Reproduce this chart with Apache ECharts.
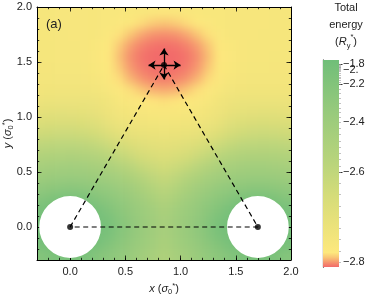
<!DOCTYPE html>
<html><head><meta charset="utf-8">
<script src="https://cdn.jsdelivr.net/npm/echarts@6/dist/echarts.min.js"></script>
<style>html,body{margin:0;padding:0;background:#fff}#c{width:374px;height:298px;background:#fff}</style>
</head><body><div id="c"></div>
<script>
// ---------------- data ----------------
const xCenters = [-0.25,-0.15,-0.05,0.05,0.15,0.25,0.35,0.45,0.55,0.65,0.75,0.85,0.95,1.05,1.15,1.25,1.35,1.45,1.55,1.65,1.75,1.85,1.95];
const yCenters = [1.95,1.85,1.75,1.65,1.55,1.45,1.35,1.25,1.15,1.05,0.95,0.85,0.75,0.65,0.55,0.45,0.35,0.25,0.15,0.05,-0.05,-0.15,-0.25];
const cellSize = 0.1;

const e195 = [-2.756,-2.756,-2.758,-2.758,-2.760,-2.760,-2.763,-2.763,-2.765,-2.767,-2.770,-2.771,-2.770,-2.767,-2.765,-2.763,-2.763,-2.760,-2.760,-2.758,-2.758,-2.756,-2.756];
const e185 = [-2.756,-2.756,-2.758,-2.758,-2.760,-2.760,-2.763,-2.770,-2.777,-2.783,-2.788,-2.790,-2.788,-2.783,-2.777,-2.770,-2.763,-2.760,-2.760,-2.758,-2.758,-2.756,-2.756];
const e175 = [-2.756,-2.756,-2.756,-2.758,-2.758,-2.760,-2.770,-2.781,-2.790,-2.797,-2.801,-2.802,-2.801,-2.797,-2.790,-2.781,-2.770,-2.760,-2.758,-2.758,-2.756,-2.756,-2.756];
const e165 = [-2.754,-2.756,-2.756,-2.756,-2.758,-2.767,-2.777,-2.789,-2.799,-2.805,-2.808,-2.809,-2.808,-2.805,-2.799,-2.789,-2.777,-2.767,-2.758,-2.756,-2.756,-2.756,-2.754];
const e155 = [-2.754,-2.754,-2.756,-2.756,-2.758,-2.769,-2.779,-2.792,-2.802,-2.808,-2.810,-2.810,-2.810,-2.808,-2.802,-2.792,-2.779,-2.769,-2.758,-2.756,-2.756,-2.754,-2.754];
const e145 = [-2.751,-2.751,-2.754,-2.754,-2.756,-2.767,-2.777,-2.789,-2.800,-2.806,-2.809,-2.810,-2.809,-2.806,-2.800,-2.789,-2.777,-2.767,-2.756,-2.754,-2.754,-2.751,-2.751];
const e135 = [-2.749,-2.749,-2.749,-2.749,-2.751,-2.756,-2.772,-2.783,-2.794,-2.801,-2.805,-2.806,-2.805,-2.801,-2.794,-2.783,-2.772,-2.756,-2.751,-2.749,-2.749,-2.749,-2.749];
const e125 = [-2.742,-2.740,-2.740,-2.740,-2.742,-2.746,-2.760,-2.772,-2.782,-2.790,-2.795,-2.796,-2.795,-2.790,-2.782,-2.772,-2.760,-2.746,-2.742,-2.740,-2.740,-2.740,-2.742];
const e115 = [-2.726,-2.724,-2.724,-2.724,-2.724,-2.728,-2.740,-2.758,-2.769,-2.775,-2.780,-2.782,-2.780,-2.775,-2.769,-2.758,-2.740,-2.728,-2.724,-2.724,-2.724,-2.724,-2.726];
const e105 = [-2.703,-2.699,-2.698,-2.701,-2.705,-2.714,-2.728,-2.742,-2.753,-2.760,-2.763,-2.764,-2.763,-2.760,-2.753,-2.742,-2.728,-2.714,-2.705,-2.701,-2.698,-2.699,-2.703];
const e095 = [-2.671,-2.667,-2.665,-2.668,-2.675,-2.687,-2.710,-2.726,-2.735,-2.741,-2.744,-2.746,-2.744,-2.741,-2.735,-2.726,-2.710,-2.687,-2.675,-2.668,-2.665,-2.667,-2.671];
const e085 = [-2.636,-2.632,-2.629,-2.632,-2.639,-2.652,-2.678,-2.698,-2.710,-2.717,-2.721,-2.724,-2.721,-2.717,-2.710,-2.698,-2.678,-2.652,-2.639,-2.632,-2.629,-2.632,-2.636];
const e075 = [-2.595,-2.583,-2.577,-2.583,-2.595,-2.609,-2.632,-2.652,-2.673,-2.687,-2.696,-2.701,-2.696,-2.687,-2.673,-2.652,-2.632,-2.609,-2.595,-2.583,-2.577,-2.583,-2.595];
const e065 = [-2.522,-2.508,-2.500,-2.504,-2.516,-2.533,-2.566,-2.609,-2.632,-2.655,-2.668,-2.678,-2.668,-2.655,-2.632,-2.609,-2.566,-2.533,-2.516,-2.504,-2.500,-2.508,-2.522];
const e055 = [-2.454,-2.441,-2.433,-2.433,-2.441,-2.458,-2.483,-2.524,-2.574,-2.611,-2.632,-2.646,-2.632,-2.611,-2.574,-2.524,-2.483,-2.458,-2.441,-2.433,-2.433,-2.441,-2.454];
const e045 = [-2.389,-2.370,-2.359,-2.359,-2.370,-2.389,-2.417,-2.450,-2.491,-2.541,-2.591,-2.613,-2.591,-2.541,-2.491,-2.450,-2.417,-2.389,-2.370,-2.359,-2.359,-2.370,-2.389];
const e035 = [-2.307,-2.274,-2.257,-2.257,-2.274,-2.307,-2.335,-2.384,-2.425,-2.475,-2.529,-2.574,-2.529,-2.475,-2.425,-2.384,-2.335,-2.307,-2.274,-2.257,-2.257,-2.274,-2.307];
const e025 = [-2.215,-2.094,-2.035,-2.035,-2.094,-2.215,-2.259,-2.313,-2.373,-2.425,-2.475,-2.520,-2.475,-2.425,-2.373,-2.313,-2.259,-2.215,-2.094,-2.035,-2.035,-2.094,-2.215];
const e015 = [-1.979,-1.876,-1.876,-1.876,-1.876,-1.979,-2.171,-2.259,-2.329,-2.385,-2.431,-2.479,-2.431,-2.385,-2.329,-2.259,-2.171,-1.979,-1.876,-1.876,-1.876,-1.876,-1.979];
const e005 = [-1.876,-1.876,-1.876,-1.876,-1.876,-1.876,-2.035,-2.230,-2.302,-2.367,-2.418,-2.466,-2.418,-2.367,-2.302,-2.230,-2.035,-1.876,-1.876,-1.876,-1.876,-1.876,-1.876];
const em005 = [-1.876,-1.876,-1.876,-1.876,-1.876,-1.876,-2.035,-2.230,-2.302,-2.367,-2.418,-2.466,-2.418,-2.367,-2.302,-2.230,-2.035,-1.876,-1.876,-1.876,-1.876,-1.876,-1.876];
const em015 = [-1.979,-1.876,-1.876,-1.876,-1.876,-1.979,-2.171,-2.259,-2.329,-2.385,-2.431,-2.479,-2.431,-2.385,-2.329,-2.259,-2.171,-1.979,-1.876,-1.876,-1.876,-1.876,-1.979];
const em025 = [-2.215,-2.094,-2.035,-2.035,-2.094,-2.215,-2.259,-2.313,-2.373,-2.425,-2.458,-2.504,-2.458,-2.425,-2.373,-2.313,-2.259,-2.215,-2.094,-2.035,-2.035,-2.094,-2.215];
const energyRows = [e195,e185,e175,e165,e155,e145,e135,e125,e115,e105,e095,e085,e075,e065,e055,e045,e035,e025,e015,e005,em005,em015,em025];

const vertexX = [0, 0.85, 1.7];
const vertexY = [0, 1.472, 0];
const exclusionX = [0, 1.7];
const exclusionY = [0, 0];
const exclusionRadius = 0.28;
const arrowDx = [-0.14, 0.15, 0, 0];
const arrowDy = [0, 0, 0.15, -0.13];

const xTickValues = [0, 0.5, 1, 1.5, 2];
const xTickLabels = ['0.0','0.5','1.0','1.5','2.0'];
const yTickValues = [0, 0.5, 1, 1.5, 2];
const yTickLabels = ['0.0','0.5','1.0','1.5','2.0'];
const cbTickValues = [-2.8, -2.6, -2.4, -2.2, -2.0, -1.8];
const cbTickLabels = ['\u22122.8','\u22122.6','\u22122.4','\u22122.2','\u22122.','\u22121.8'];

// colour normalisation (energy -> position on colour bar) and colour map
const normE = [-2.81, -2.8, -2.6, -2.4, -2.2, -2.0, -1.8, -1.75];
const normT = [0, 0.024, 0.459, 0.700, 0.884, 0.952, 0.981, 1];
const cmapPos = [0, 0.02, 0.045, 0.07, 0.12, 0.22, 0.35, 0.49, 0.75, 1];
const cmapCol = ['#f26a6a','#f5906e','#f9c474','#fde87d','#f6e67c','#e8e17a','#d4dc79','#bbd57b','#97ca7c','#70be79'];

// ---------------- helpers ----------------
function norm(e){
  if (e <= normE[0]) return 0;
  for (let k = 0; k < normE.length - 1; k++) {
    if (e <= normE[k+1]) return normT[k] + (e - normE[k]) / (normE[k+1] - normE[k]) * (normT[k+1] - normT[k]);
  }
  return 1;
}
const cmapRgb = cmapCol.map(h => [parseInt(h.slice(1,3),16), parseInt(h.slice(3,5),16), parseInt(h.slice(5,7),16)]);
function colorOf(t){
  t = Math.max(0, Math.min(1, t));
  for (let k = 0; k < cmapPos.length - 1; k++) {
    if (t <= cmapPos[k+1]) {
      const f = (t - cmapPos[k]) / (cmapPos[k+1] - cmapPos[k]);
      const a = cmapRgb[k], b = cmapRgb[k+1];
      return 'rgb(' + [0,1,2].map(i => Math.round(a[i] + (b[i]-a[i])*f)).join(',') + ')';
    }
  }
  return cmapCol[cmapCol.length-1];
}
const minorTicks = [];
for (let k = -3; k <= 20; k++) minorTicks.push(k / 10);
const cbMinor = [];
for (let k = 0; k <= 40; k++) cbMinor.push(norm(-2.8 + k * 0.025));

const heatData = [];
yCenters.forEach((y, j) => xCenters.forEach((x, i) => heatData.push([x, y, energyRows[j][i]])));
const xFirst = xCenters[0], xLast = xCenters[xCenters.length-1];
const yFirst = yCenters[0], yLast = yCenters[yCenters.length-1];

const FONT = 'Liberation Sans, Arial, sans-serif';
const richName = {
  i: {fontStyle: 'italic', fontSize: 11, fontFamily: FONT, color: '#222'},
  b: {fontSize: 7.5, verticalAlign: 'bottom', fontFamily: FONT, color: '#222', padding: [6,0,0,0]},
  t: {fontSize: 7.5, verticalAlign: 'top', fontFamily: FONT, color: '#222', padding: [0,0,5,0]}
};
function labelFor(values, labels){
  return v => { for (let k = 0; k < values.length; k++) if (Math.abs(values[k] - v) < 1e-6) return labels[k]; return ''; };
}
function frameAxis(dim, pos, major, withLabel, extra){
  const vals = dim === 'x' ? xTickValues : yTickValues;
  const labs = dim === 'x' ? xTickLabels : yTickLabels;
  return Object.assign({
    gridIndex: 0, type: 'value', min: -0.3, max: 2.0, position: pos, zlevel: 1,
    axisLine: {show: major, onZero: false, lineStyle: {color: '#000', width: 1}},
    axisTick: {show: true, inside: true, length: major ? 4.5 : 2.2, customValues: major ? vals : minorTicks, lineStyle: {color: '#000', width: 0.8}},
    axisLabel: withLabel ? {show: true, hideOverlap: false, customValues: vals, formatter: labelFor(vals, labs), fontSize: 11, color: '#222', fontFamily: FONT, margin: dim === 'x' ? 6 : 5} : {show: false},
    splitLine: {show: false}
  }, extra || {});
}

const chart = echarts.init(document.getElementById('c'), null, {renderer: 'canvas'});
const cbTickPos = cbTickValues.map(norm);
const cbFmt = labelFor(cbTickPos, cbTickLabels);
const cbPosA = cbTickPos.filter((p, k) => k % 2 === 0);
const cbPosB = cbTickPos.filter((p, k) => k % 2 === 1);
function cbAxis(ticks, labels, len, col, w, showLine){
  return {gridIndex: 1, type: 'value', min: 0, max: 1, position: 'right', zlevel: 1,
    axisLine: {show: showLine, lineStyle: {color: '#000', width: 1.2}},
    axisTick: {show: true, inside: false, length: len, customValues: ticks, lineStyle: {color: col, width: w}},
    axisLabel: labels ? {show: true, hideOverlap: false, customValues: labels, formatter: cbFmt, fontSize: 11, color: '#222', fontFamily: FONT, margin: 4} : {show: false},
    splitLine: {show: false}};
}
chart.setOption({
  animation: false,
  grid: [
    {left: 37, top: 7, width: 254, height: 253, containLabel: false, outerBoundsMode: 'none'},
    {left: 323, top: 60, width: 16, height: 207, containLabel: false, outerBoundsMode: 'none'}
  ],
  xAxis: [
    frameAxis('x', 'bottom', true, true, {name: '{i|x} ({i|\u03c3}{b|0}{t|*})', nameLocation: 'middle', nameGap: 22, nameMoveOverlap: false,
      nameTextStyle: {fontSize: 11, color: '#222', fontFamily: FONT, rich: richName}}),
    frameAxis('x', 'bottom', false, false),
    frameAxis('x', 'top', true, false),
    frameAxis('x', 'top', false, false),
    {gridIndex: 1, type: 'value', min: 0, max: 1, show: false, zlevel: 1}
  ],
  yAxis: [
    frameAxis('y', 'left', true, true, {name: '{i|y} ({i|\u03c3}{b|0}{t|*})', nameLocation: 'middle', nameGap: 22, nameRotate: 90, nameMoveOverlap: false,
      nameTextStyle: {fontSize: 11, color: '#222', fontFamily: FONT, rich: richName}}),
    frameAxis('y', 'left', false, false),
    frameAxis('y', 'right', true, false),
    frameAxis('y', 'right', false, false),
    cbAxis(cbPosA, cbPosA, 3.5, '#000', 0.8, true),
    cbAxis(cbPosB, cbPosB, 3.5, '#000', 0.8, false),
    cbAxis(cbMinor, null, 2, '#999', 0.6, false)
  ],
  graphic: [
    {type: 'text', zlevel: 1, x: 46, y: 24, style: {text: '(a)', fontSize: 13, fontFamily: FONT, fill: '#222', verticalAlign: 'middle'}, z: 20},
    {type: 'text', zlevel: 1, x: 346, y: -1, style: {text: 'Total\nenergy\n({i|R}{b|y}{t|*})', fontSize: 11, lineHeight: 17, fontFamily: FONT, fill: '#222', align: 'center', verticalAlign: 'top', rich: richName}, z: 20}
  ],
  series: [
    {
      type: 'custom', xAxisIndex: 0, yAxisIndex: 0, clip: false, silent: true, z: 1, zlevel: 0,
      data: heatData,
      renderItem: function(params, api){
        const x = api.value(0), y = api.value(1), e = api.value(2);
        const p0 = api.coord([x - cellSize/2, y + cellSize/2]);
        const p1 = api.coord([x + cellSize/2, y - cellSize/2]);
        let x0 = p0[0], y0 = p0[1], x1 = p1[0] + 0.6, y1 = p1[1] + 0.6;
        // pad the outermost cells so the soft-focus filter has no fade at the frame
        if (Math.abs(x - xFirst) < 1e-9) x0 -= 16;
        if (Math.abs(x - xLast) < 1e-9) x1 += 16;
        if (Math.abs(y - yFirst) < 1e-9) y0 -= 16;
        if (Math.abs(y - yLast) < 1e-9) y1 += 16;
        return {type: 'rect', shape: {x: x0, y: y0, width: x1 - x0, height: y1 - y0}, style: {fill: colorOf(norm(e))}};
      }
    },
    {
      type: 'custom', xAxisIndex: 0, yAxisIndex: 0, clip: true, silent: true, z: 2, zlevel: 1,
      data: exclusionX.map((x, k) => [x, exclusionY[k]]),
      renderItem: function(params, api){
        const c = api.coord([api.value(0), api.value(1)]);
        const r = api.size([exclusionRadius, 0])[0];
        return {type: 'circle', shape: {cx: c[0], cy: c[1], r: r}, style: {fill: '#fff'}};
      }
    },
    {
      type: 'line', xAxisIndex: 0, yAxisIndex: 0, silent: true, z: 5, zlevel: 1, symbol: 'none',
      data: [0,1,2,0].map(k => [vertexX[k], vertexY[k]]),
      lineStyle: {color: '#000', width: 1.2, type: [5, 3.5]}
    },
    {
      type: 'scatter', xAxisIndex: 0, yAxisIndex: 0, silent: true, z: 6, zlevel: 1, symbolSize: 6,
      data: vertexX.map((x, k) => [x, vertexY[k]]),
      itemStyle: {color: '#000'}
    },
    {
      type: 'lines', coordinateSystem: 'cartesian2d', xAxisIndex: 0, yAxisIndex: 0, silent: true, z: 7, zlevel: 1,
      symbol: ['none', 'arrow'], symbolSize: [0, 7],
      data: arrowDx.map((dx, k) => ({coords: [[vertexX[1], vertexY[1]], [vertexX[1] + dx, vertexY[1] + arrowDy[k]]]})),
      lineStyle: {color: '#000', width: 1.3, opacity: 1, curveness: 0}
    },
    {
      type: 'custom', xAxisIndex: 4, yAxisIndex: 4, silent: true, z: 1, zlevel: 1,
      data: [[0.5, 0.5]],
      renderItem: function(params, api){
        const p0 = api.coord([0, 1]);
        const p1 = api.coord([1, 0]);
        return {type: 'rect', shape: {x: p0[0], y: p0[1], width: p1[0]-p0[0], height: p1[1]-p0[1]},
          style: {fill: new echarts.graphic.LinearGradient(0, 1, 0, 0, cmapPos.map((p, k) => ({offset: p, color: cmapCol[k]})))}};
      }
    }
  ]
});

// soft-focus the field layer (zlevel 0) and clip it to the plot frame
(function(){
  const tl = chart.convertToPixel({xAxisIndex: 0, yAxisIndex: 0}, [-0.3, 2.0]);
  const br = chart.convertToPixel({xAxisIndex: 0, yAxisIndex: 0}, [2.0, -0.3]);
  const W = chart.getWidth(), H = chart.getHeight();
  const cv = chart.getDom().querySelectorAll('canvas');
  let layer0 = null;
  cv.forEach(c => { if (c.getAttribute('data-zr-dom-id') === 'zr_0') layer0 = c; });
  if (!layer0) layer0 = cv[0];
  layer0.style.filter = 'blur(5px)';
  layer0.style.clipPath = 'inset(' + tl[1] + 'px ' + (W - br[0]) + 'px ' + (H - br[1]) + 'px ' + tl[0] + 'px)';
})();
</script>
</body></html>
